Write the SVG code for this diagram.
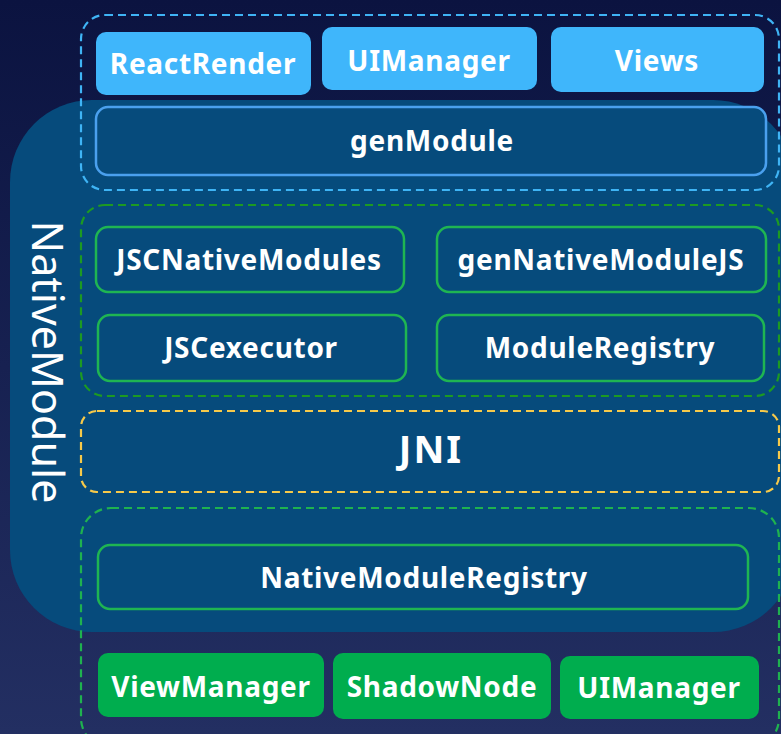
<svg xmlns="http://www.w3.org/2000/svg" width="781" height="734" viewBox="0 0 781 734">
<defs>
<linearGradient id="bg" x1="0" y1="0" x2="0" y2="1">
<stop offset="0" stop-color="#0b1340"/>
<stop offset="1" stop-color="#232f62"/>
</linearGradient>
</defs>
<style>
text{font-family:"Noto Sans","Open Sans","DejaVu Sans",sans-serif;fill:#ffffff;text-anchor:middle;dominant-baseline:central}
.t{font-size:28px;font-weight:bold;letter-spacing:0.7px}
.lb{fill:#3fb6fb}
.gb{fill:#00ad4e}
.ob{fill:#064b7c;stroke:#1fb552;stroke-width:2.5}
.gm{fill:#064b7c;stroke:#4aa0ee;stroke-width:2.5}
.dash{fill:none;stroke-width:2.2;stroke-dasharray:8 5}
</style>
<rect width="781" height="734" fill="url(#bg)"/>
<g id="nativeModule">
<rect x="10" y="100" width="785" height="532" rx="82" fill="#064b7c"/>
<text transform="translate(48,362) rotate(90)" style="font-size:43px;font-weight:normal">NativeModule</text>
</g>
<g id="groups">
<rect class="dash" x="81" y="15" width="698" height="175" rx="24" stroke="#3fb4f5"/>
<rect class="dash" x="81" y="205" width="698" height="191" rx="24" stroke="#1d9a22"/>
<rect class="dash" x="81" y="411" width="698" height="81" rx="16" stroke="#f6c94a"/>
<rect class="dash" x="81" y="508" width="698" height="240" rx="30" stroke="#1fb24f"/>
</g>
<g id="reactRender"><rect class="lb" x="96" y="32" width="215" height="63" rx="10"/><text class="t" x="203" y="63">ReactRender</text></g>
<g id="uiManagerTop"><rect class="lb" x="322" y="27" width="215" height="63" rx="10"/><text class="t" x="429" y="60">UIManager</text></g>
<g id="views"><rect class="lb" x="551" y="27" width="213" height="65" rx="10"/><text class="t" x="657" y="60">Views</text></g>
<g id="genModule"><rect class="gm" x="96" y="107" width="670" height="68" rx="12"/><text class="t" x="432" y="140">genModule</text></g>
<g id="jscNativeModules"><rect class="ob" x="96" y="227" width="308" height="65" rx="12"/><text class="t" x="249" y="259">JSCNativeModules</text></g>
<g id="genNativeModuleJS"><rect class="ob" x="437" y="227" width="329" height="65" rx="12"/><text class="t" x="601" y="259">genNativeModuleJS</text></g>
<g id="jscExecutor"><rect class="ob" x="98" y="315" width="308" height="66" rx="12"/><text class="t" x="251" y="347">JSCexecutor</text></g>
<g id="moduleRegistry"><rect class="ob" x="437" y="315" width="327" height="66" rx="12"/><text class="t" x="600" y="347">ModuleRegistry</text></g>
<g id="jni"><text x="431" y="448" style="font-size:38px;font-weight:bold;letter-spacing:2px">JNI</text></g>
<g id="nativeModuleRegistry"><rect class="ob" x="98" y="545" width="650" height="64" rx="12"/><text class="t" x="424" y="577">NativeModuleRegistry</text></g>
<g id="viewManager"><rect class="gb" x="98" y="653" width="226" height="64" rx="10"/><text class="t" x="211" y="686">ViewManager</text></g>
<g id="shadowNode"><rect class="gb" x="333" y="653" width="218" height="66" rx="10"/><text class="t" x="442" y="686">ShadowNode</text></g>
<g id="uiManagerBottom"><rect class="gb" x="560" y="656" width="199" height="63" rx="10"/><text class="t" x="659" y="687">UIManager</text></g>
<g id="connectors"></g>
</svg>
